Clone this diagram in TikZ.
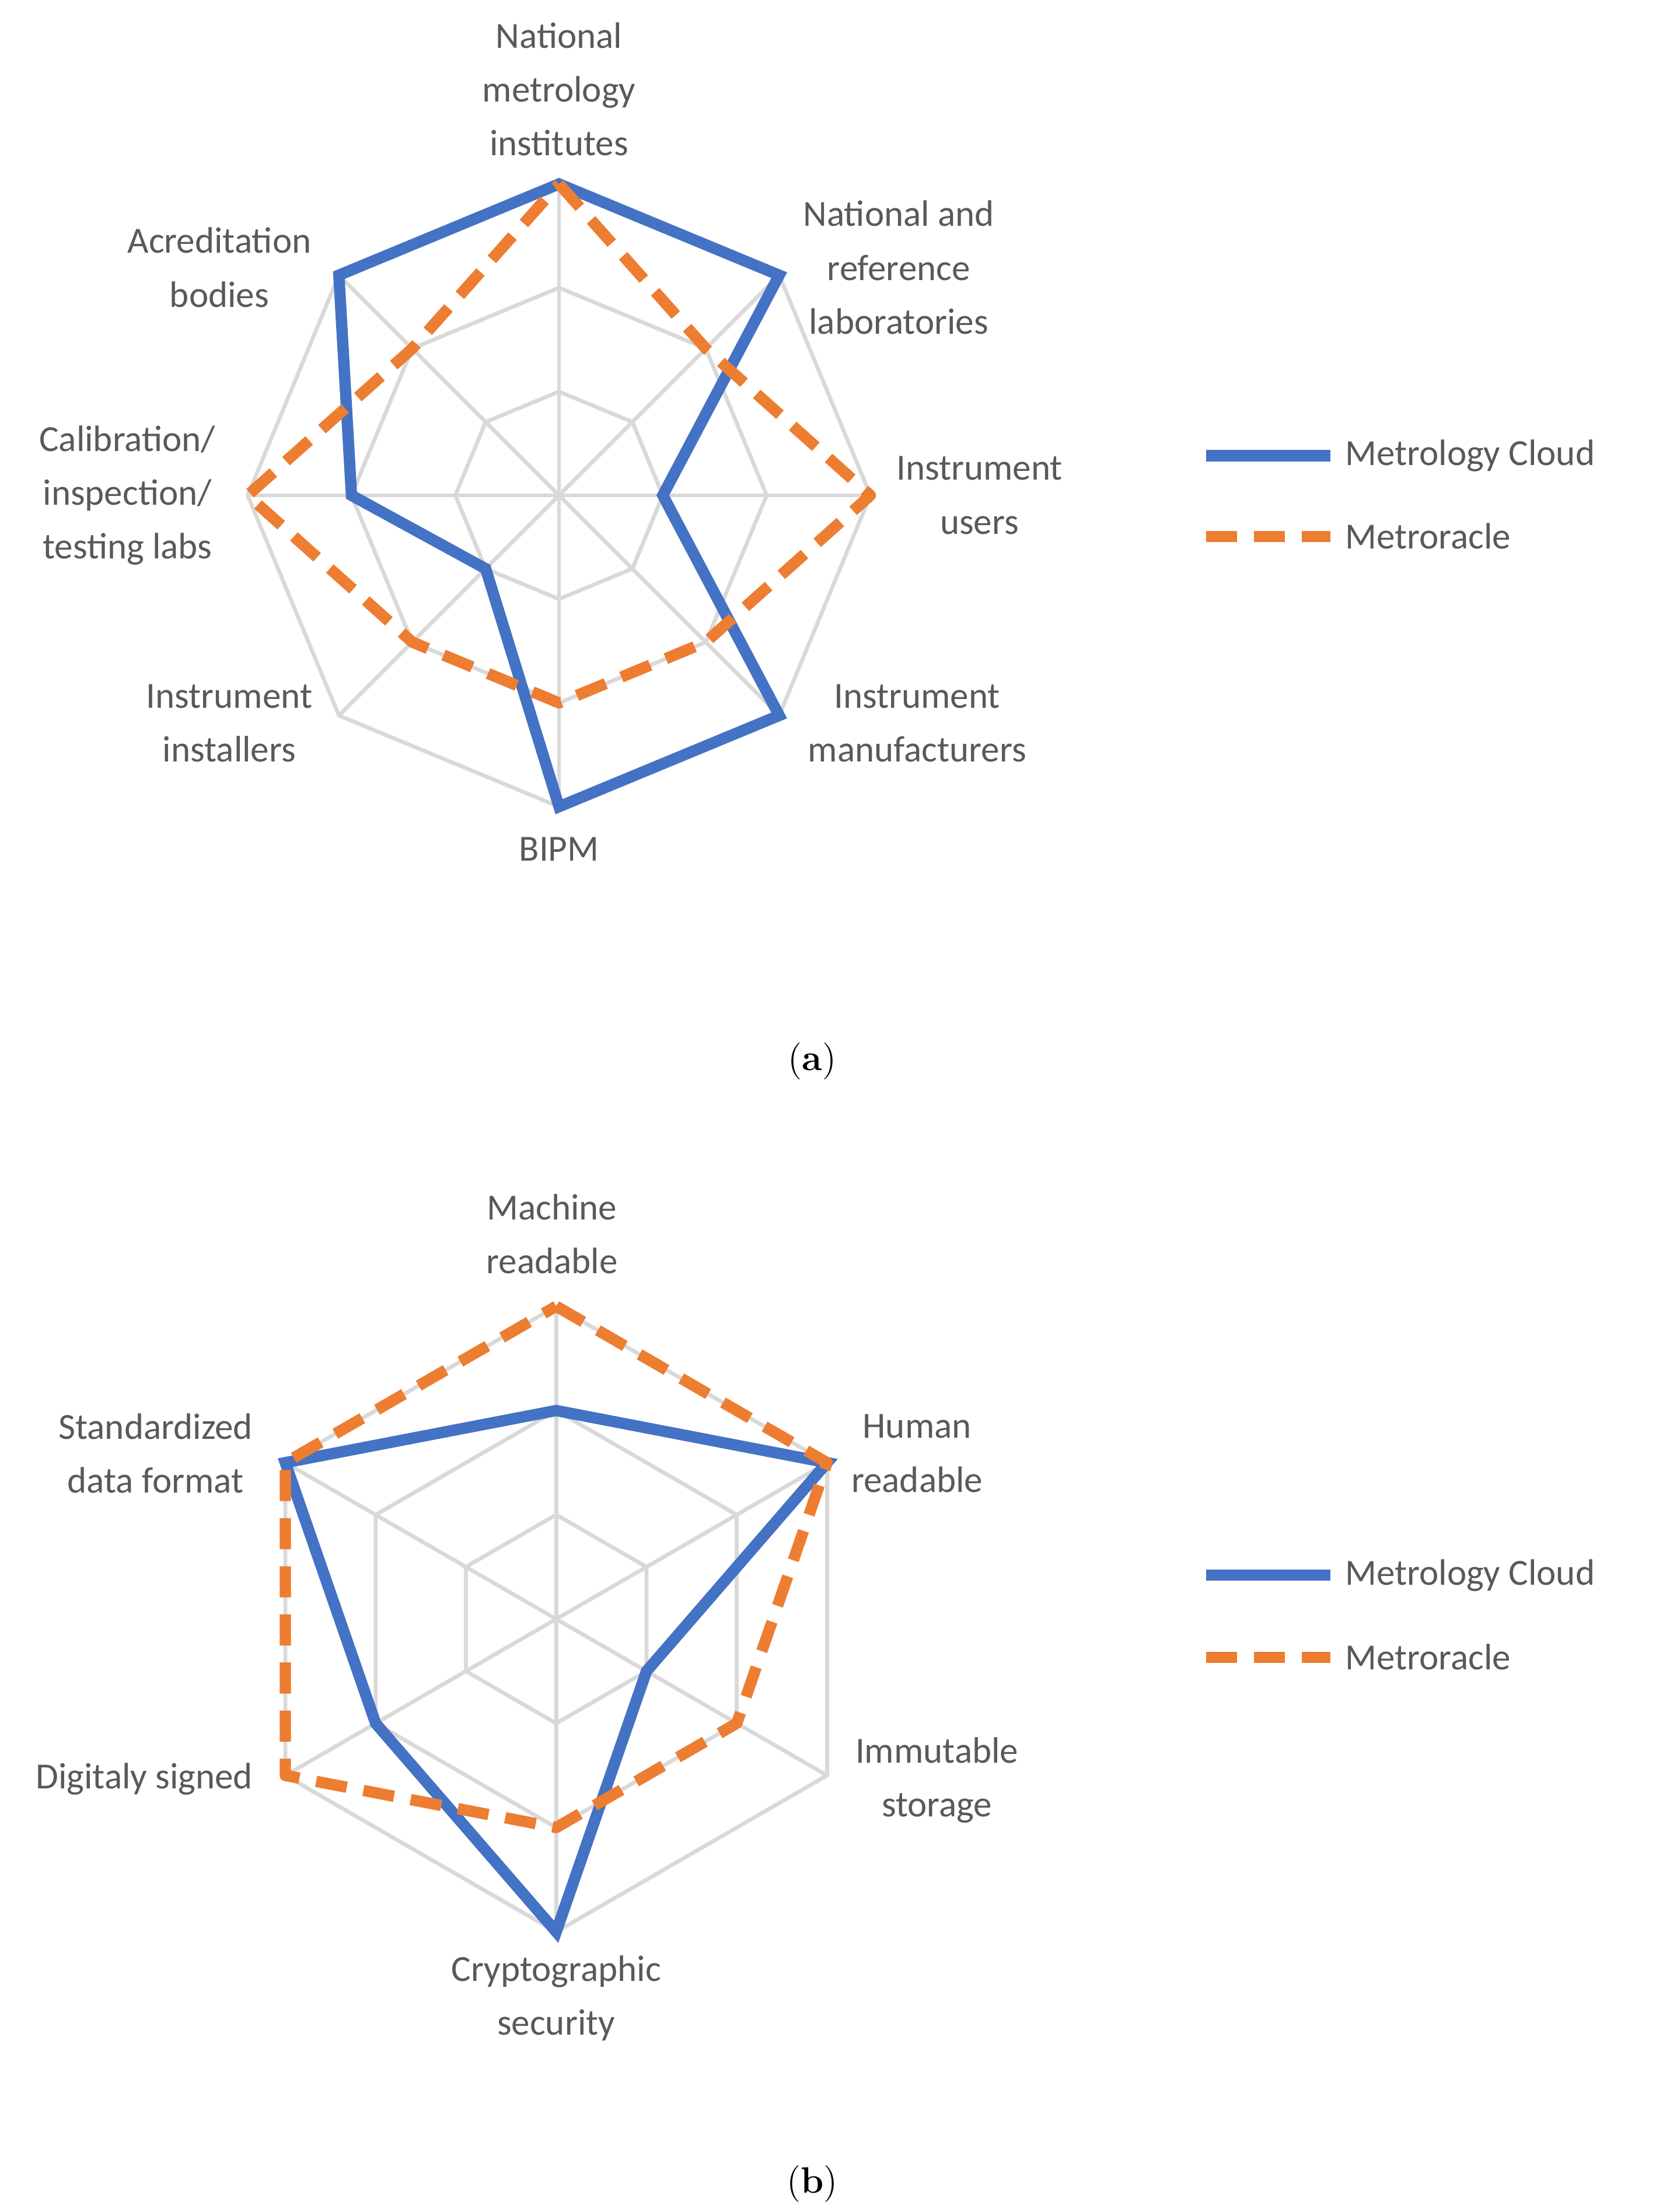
\documentclass[tikz,border=0pt]{standalone}
\usepackage{fontspec}
\setmainfont{Carlito}
\newfontfamily\capfont{Latin Modern Roman}
\begin{document}
\definecolor{mcblue}{HTML}{4472C4}
\definecolor{mcorange}{HTML}{ED7D31}
\definecolor{txt}{HTML}{595959}
\definecolor{grid}{HTML}{D9D9D9}
\begin{tikzpicture}[x=0.5pt,y=-0.5pt,
  lbl/.style={text=txt,font=\fontsize{13}{19}\selectfont,align=center,inner sep=0pt},
  gridl/.style={draw=grid,line width=1.4pt,line join=round},
  blueS/.style={draw=mcblue,line width=4pt,line join=miter},
  oraS/.style={draw=mcorange,line width=4pt,dash pattern=on 11pt off 6pt,line join=round},
  capt/.style={font=\capfont\fontsize{13}{16}\selectfont,inner sep=0pt}]
\useasboundingbox (0,0) rectangle (1170,1563);
% ---------- chart a ----------
\begin{scope}[shift={(395,350)}]
  \foreach \a in {0,45,...,315} \draw[gridl] (0,0) -- ({220*sin(\a)},{-220*cos(\a)});
  \foreach \r in {73.3,146.7,220}
    \draw[gridl] ({\r*sin(0)},{-\r*cos(0)}) \foreach \a in {45,90,...,315} {-- ({\r*sin(\a)},{-\r*cos(\a)})} -- cycle;
  \def\u{73.33}
  \draw[blueS] (0,{-3*\u}) -- ({3*\u*sin(45)},{-3*\u*cos(45)}) -- ({1*\u},0)
    -- ({3*\u*sin(135)},{-3*\u*cos(135)}) -- (0,{3*\u}) -- ({1*\u*sin(225)},{-1*\u*cos(225)})
    -- ({-2*\u},0) -- ({3*\u*sin(315)},{-3*\u*cos(315)}) -- cycle;
  \draw[oraS] (0,{-3*\u}) -- ({2*\u*sin(45)},{-2*\u*cos(45)}) -- ({3*\u},0)
    -- ({2*\u*sin(135)},{-2*\u*cos(135)}) -- (0,{2*\u}) -- ({2*\u*sin(225)},{-2*\u*cos(225)})
    -- ({-3*\u},0) -- ({2*\u*sin(315)},{-2*\u*cos(315)}) -- cycle;
\end{scope}
\node[lbl] (a1) at (395,63) {National\\metrology\\institutes};
\node[lbl] (a2) at (635,189) {National and\\reference\\laboratories};
\node[lbl] (a3) at (692,350) {Instrument\\users};
\node[lbl] (a4) at (648,511) {Instrument\\manufacturers};
\node[lbl] (a5) at (395,600) {BIPM};
\node[lbl] (a6) at (162,511) {Instrument\\installers};
\node[lbl] (a7) at (90,350) {Calibration/\\inspection/\\testing labs};
\node[lbl] (a8) at (155,189) {Acreditation\\bodies};
\draw[blueS] (852,322) -- (940,322);
\draw[oraS] (852,379) -- (940,379);
\node[lbl,anchor=west] (la1) at (950,322) {Metrology Cloud};
\node[lbl,anchor=west] (la2) at (950,379) {Metroracle};
\node[capt] (ca) at (574,750) {(\textbf{a})};
% ---------- chart b ----------
\begin{scope}[shift={(393,1144)}]
  \foreach \a in {0,60,...,300} \draw[gridl] (0,0) -- ({221*sin(\a)},{-221*cos(\a)});
  \foreach \r in {73.7,147.3,221}
    \draw[gridl] (0,{-\r}) \foreach \a in {60,120,...,300} {-- ({\r*sin(\a)},{-\r*cos(\a)})} -- cycle;
  \def\u{73.67}
  \draw[blueS] (0,{-2*\u}) -- ({3*\u*sin(60)},{-3*\u*cos(60)}) -- ({1*\u*sin(120)},{-1*\u*cos(120)})
    -- (0,{3*\u}) -- ({2*\u*sin(240)},{-2*\u*cos(240)}) -- ({3*\u*sin(300)},{-3*\u*cos(300)}) -- cycle;
  \draw[oraS] (0,{-3*\u}) -- ({3*\u*sin(60)},{-3*\u*cos(60)}) -- ({2*\u*sin(120)},{-2*\u*cos(120)})
    -- (0,{2*\u}) -- ({3*\u*sin(240)},{-3*\u*cos(240)}) -- ({3*\u*sin(300)},{-3*\u*cos(300)}) -- cycle;
\end{scope}
\node[lbl] (b1) at (390,872) {Machine\\readable};
\node[lbl] (b2) at (648,1027) {Human\\readable};
\node[lbl] (b3) at (662,1258) {Immutable\\storage};
\node[lbl] (b4) at (393,1412) {Cryptographic\\security};
\node[lbl] (b5) at (102,1257) {Digitaly signed};
\node[lbl] (b6) at (110,1027) {Standardized\\data format};
\draw[blueS] (852,1113) -- (940,1113);
\draw[oraS] (852,1171) -- (940,1171);
\node[lbl,anchor=west] (lb1) at (950,1113) {Metrology Cloud};
\node[lbl,anchor=west] (lb2) at (950,1171) {Metroracle};
\node[capt] (cb) at (574,1543) {(\textbf{b})};
\end{tikzpicture}
\end{document}
